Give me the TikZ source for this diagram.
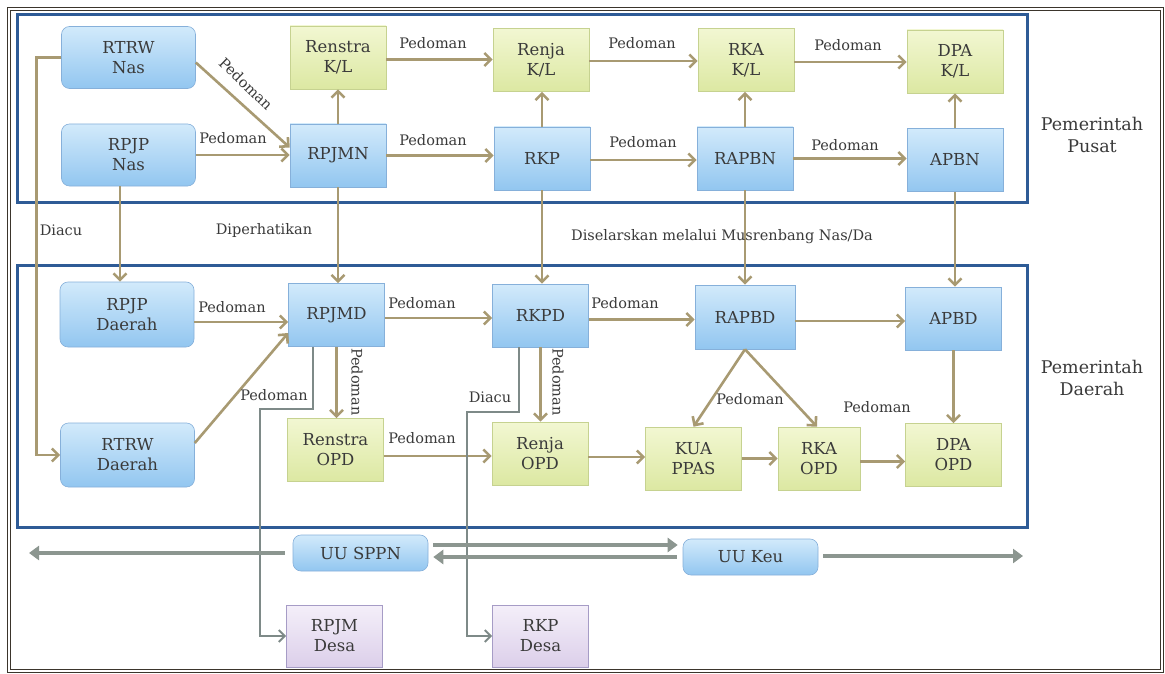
\documentclass[tikz,border=0pt]{standalone}
\usepackage{fontspec}
\setmainfont{DejaVu Serif}
\usetikzlibrary{arrows.meta,calc}
\definecolor{txt}{HTML}{3A3A3A}
\definecolor{frameblue}{HTML}{2E5B96}
\definecolor{outer}{HTML}{3B352C}
\definecolor{tan}{HTML}{A89A72}
\definecolor{grayc}{HTML}{7E8A88}
\definecolor{uuc}{HTML}{8C9690}
\definecolor{bluetop}{HTML}{D2EAFB}
\definecolor{bluebot}{HTML}{92C6F0}
\definecolor{blueedge}{HTML}{86B0DA}
\definecolor{greentop}{HTML}{F2F7D2}
\definecolor{greenbot}{HTML}{DCE8A2}
\definecolor{greenedge}{HTML}{C6D290}
\definecolor{purptop}{HTML}{F4EFF9}
\definecolor{purpbot}{HTML}{DCCFEA}
\definecolor{purpedge}{HTML}{A69CC6}
\newcommand\myNodeFont{\fontsize{16.5}{20}\selectfont}
\newcommand\myLabelFont{\fontsize{14.5}{16}\selectfont}
\newcommand\myGovFont{\fontsize{17.5}{22}\selectfont}
\begin{document}
\begin{tikzpicture}[x=1pt,y=-1pt,
  box/.style={align=center, inner sep=0pt, text=txt, font=\myNodeFont, line width=0.6pt},
  bluebox/.style={box, draw=blueedge, top color=bluetop, bottom color=bluebot},
  roundblue/.style={bluebox, rounded corners=8pt},
  greenbox/.style={box, draw=greenedge, top color=greentop, bottom color=greenbot},
  purpbox/.style={box, draw=purpedge, top color=purptop, bottom color=purpbot},
  sq/.style={minimum width=96pt, minimum height=63pt},
  wide/.style={minimum width=134pt, minimum height=62pt},
  arr/.style={draw=tan, line width=2.6pt, -{Straight Barb[length=6.5pt,width=13pt]}},
  garr/.style={draw=grayc, line width=2pt, -{Straight Barb[length=6pt,width=12pt]}},
  uarr/.style={draw=uuc, line width=4pt, -{Triangle[length=10pt,width=14pt]}},
  lbl/.style={text=txt, font=\myLabelFont, inner sep=1pt},
  govlbl/.style={text=txt, font=\myGovFont, align=center}
]
\useasboundingbox (0,0) rectangle (1165,674);
\fill[white] (0,0) rectangle (1165,674);
% outer frame
\draw[outer, double=white, double distance=1.5pt, line width=1pt] (9,9) rectangle (1162,671);
% government frames
\draw[frameblue, line width=3pt] (17,15) rectangle (1027,202);
\draw[frameblue, line width=3pt] (17,265) rectangle (1027,527);

% top row nodes
\node[roundblue, wide] (rtrwnas) at (128.5,57.5) {RTRW\\Nas};
\node[roundblue, wide] (rpjpnas) at (128.5,155) {RPJP\\Nas};
\node[greenbox, sq] (renstrakl) at (338,57.5) {Renstra\\K/L};
\node[bluebox, sq] (rpjmn) at (338,155.5) {RPJMN};
\node[greenbox, sq] (renjakl) at (541,60) {Renja\\K/L};
\node[bluebox, sq] (rkp) at (542,158.5) {RKP};
\node[greenbox, sq] (rkakl) at (746,60) {RKA\\K/L};
\node[bluebox, sq] (rapbn) at (745,158.5) {RAPBN};
\node[greenbox, sq] (dpakl) at (955,61.5) {DPA\\K/L};
\node[bluebox, sq] (apbn) at (955,160) {APBN};

% lower nodes
\node[roundblue, minimum width=134pt, minimum height=65pt] (rpjpdaerah) at (127,314.5) {RPJP\\Daerah};
\node[roundblue, minimum width=134pt, minimum height=64pt] (rtrwdaerah) at (127.5,455) {RTRW\\Daerah};
\node[bluebox, sq] (rpjmd) at (336.5,315) {RPJMD};
\node[greenbox, sq] (renstraopd) at (335.5,450) {Renstra\\OPD};
\node[bluebox, sq] (rkpd) at (540.5,315.5) {RKPD};
\node[greenbox, sq] (renjaopd) at (540,453.5) {Renja\\OPD};
\node[bluebox, minimum width=100pt, minimum height=64pt] (rapbd) at (745,317) {RAPBD};
\node[greenbox, sq] (kuappas) at (693.5,458.5) {KUA\\PPAS};
\node[greenbox, minimum width=82pt, minimum height=63pt] (rkaopd) at (819,458.5) {RKA\\OPD};
\node[bluebox, sq] (apbd) at (953.5,318.5) {APBD};
\node[greenbox, sq] (dpaopd) at (953.5,455) {DPA\\OPD};

% bottom nodes
\node[roundblue, minimum width=135pt, minimum height=36pt] (uusppn) at (360.5,553) {UU SPPN};
\node[roundblue, minimum width=135pt, minimum height=36pt] (uukeu) at (750.5,557) {UU Keu};
\node[purpbox, sq, minimum height=62pt] (rpjmdesa) at (334.5,636) {RPJM\\Desa};
\node[purpbox, sq, minimum height=62pt] (rkpdesa) at (540.5,636) {RKP\\Desa};

% top connectors
\draw[arr] ([yshift=-5pt]rtrwnas.east) -- ([yshift=8pt]rpjmn.west);
\draw[arr] (rpjpnas.east) -- (rpjpnas.east -| rpjmn.west);
\draw[arr] (rpjmn.north) -- (rpjmn.north |- renstrakl.south);
\draw[arr] ([yshift=-2pt]renstrakl.east) -- ([yshift=-2pt]renstrakl.east -| renjakl.west);
\draw[arr] (rpjmn.east) -- (rpjmn.east -| rkp.west);
\draw[arr] (rkp.north) -- (rkp.north |- renjakl.south);
\draw[arr] ([yshift=-1pt]renjakl.east) -- ([yshift=-1pt]renjakl.east -| rkakl.west);
\draw[arr] ([yshift=-1.5pt]rkp.east) -- ([yshift=-1.5pt]rkp.east -| rapbn.west);
\draw[arr] (rapbn.north) -- (rapbn.north |- rkakl.south);
\draw[arr] ([yshift=-2pt]rkakl.east) -- ([yshift=-2pt]rkakl.east -| dpakl.west);
\draw[arr] (rapbn.east) -- (rapbn.east -| apbn.west);
\draw[arr] (apbn.north) -- (apbn.north |- dpakl.south);

% inter-level connectors
\draw[arr] (rtrwnas.west) -- ++(-25,0) |- (rtrwdaerah.west);
\draw[arr] ([xshift=-8.5pt]rpjpnas.south) -- ([xshift=-8.5pt]rpjpnas.south |- rpjpdaerah.north);
\draw[arr] (rpjmn.south) -- (rpjmn.south |- rpjmd.north);
\draw[arr] (rkp.south) -- (rkp.south |- rkpd.north);
\draw[arr] (rapbn.south) -- (rapbn.south |- rapbd.north);
\draw[arr] (apbn.south) -- (apbn.south |- apbd.north);

% lower connectors
\draw[arr] ([yshift=-7.5pt]rpjpdaerah.east) -- ([yshift=-7.5pt]rpjpdaerah.east -| rpjmd.west);
\draw[arr] ([yshift=12pt]rtrwdaerah.east) -- ([yshift=-18pt]rpjmd.west);
\draw[arr] ([yshift=-3pt]rpjmd.east) -- ([yshift=-3pt]rpjmd.east -| rkpd.west);
\draw[arr] (rpjmd.south) -- (rpjmd.south |- renstraopd.north);
\draw[arr] ([yshift=-4pt]rkpd.east) -- ([yshift=-4pt]rkpd.east -| rapbd.west);
\draw[arr] (rkpd.south) -- (rkpd.south |- renjaopd.north);
\draw[arr] ([yshift=-4pt]rapbd.east) -- ([yshift=-4pt]rapbd.east -| apbd.west);
\draw[arr] (apbd.south) -- (apbd.south |- dpaopd.north);
\draw[arr] ([yshift=-6pt]renstraopd.east) -- ([yshift=-6pt]renstraopd.east -| renjaopd.west);
\draw[arr] ([yshift=-3.5pt]renjaopd.east) -- ([yshift=-3.5pt]renjaopd.east -| kuappas.west);
\draw[arr] (kuappas.east) -- (kuappas.east -| rkaopd.west);
\draw[arr] ([yshift=-3pt]rkaopd.east) -- ([yshift=-3pt]rkaopd.east -| dpaopd.west);
\draw[arr] (rapbd.south) -- (kuappas.north);
\draw[arr] (rapbd.south) -- ([xshift=-2pt]rkaopd.north);

% desa connectors
\coordinate (d1) at (260,409);
\coordinate (d2) at (467,412);
\draw[garr] ([xshift=-23.5pt]rpjmd.south) |- (d1) |- (rpjmdesa.west);
\draw[garr] ([xshift=-21.5pt]rkpd.south) |- (d2) |- (rkpdesa.west);

% law arrows
\coordinate (lft) at (29,553);
\coordinate (rgt) at (1023,556);
\draw[uarr, shorten <=8pt] (uusppn.west) -- (lft);
\draw[uarr, shorten <=5pt, shorten >=5pt] ([yshift=8pt]uusppn.east) -- ([yshift=8pt]uusppn.east -| uukeu.west);
\draw[uarr, shorten <=6pt, shorten >=5pt] (uukeu.west) -- (uukeu.west -| uusppn.east);
\draw[uarr, shorten <=5pt] ([yshift=1pt]uukeu.east) -- (rgt);

% labels
\node[lbl, rotate=-44] (l1) at (246,84) {Pedoman};
\node[lbl] (l2) at (233,138) {Pedoman};
\node[lbl] (l3) at (433,43) {Pedoman};
\node[lbl] (l4) at (433,140) {Pedoman};
\node[lbl] (l5) at (642,43) {Pedoman};
\node[lbl] (l6) at (643,142) {Pedoman};
\node[lbl] (l7) at (848,45) {Pedoman};
\node[lbl] (l8) at (845,145) {Pedoman};
\node[lbl] (l9) at (61,230) {Diacu};
\node[lbl] (l10) at (264,230) {Diperhatikan};
\node[lbl] (l11) at (722,237) {Diselarskan melalui Musrenbang Nas/Da};
\node[lbl] (l12) at (232,307) {Pedoman};
\node[lbl] (l13) at (274,395) {Pedoman};
\node[lbl] (l14) at (422,303) {Pedoman};
\node[lbl, rotate=-90] (l15) at (357,382) {Pedoman};
\node[lbl] (l16) at (625,303) {Pedoman};
\node[lbl, rotate=-90] (l17) at (558,382) {Pedoman};
\node[lbl] (l18) at (490,397) {Diacu};
\node[lbl] (l19) at (422,438) {Pedoman};
\node[lbl] (l20) at (750,399) {Pedoman};
\node[lbl] (l21) at (877,407) {Pedoman};
\node[govlbl] (g1) at (1092,135) {Pemerintah\\Pusat};
\node[govlbl] (g2) at (1092,378) {Pemerintah\\Daerah};
\end{tikzpicture}
\end{document}
